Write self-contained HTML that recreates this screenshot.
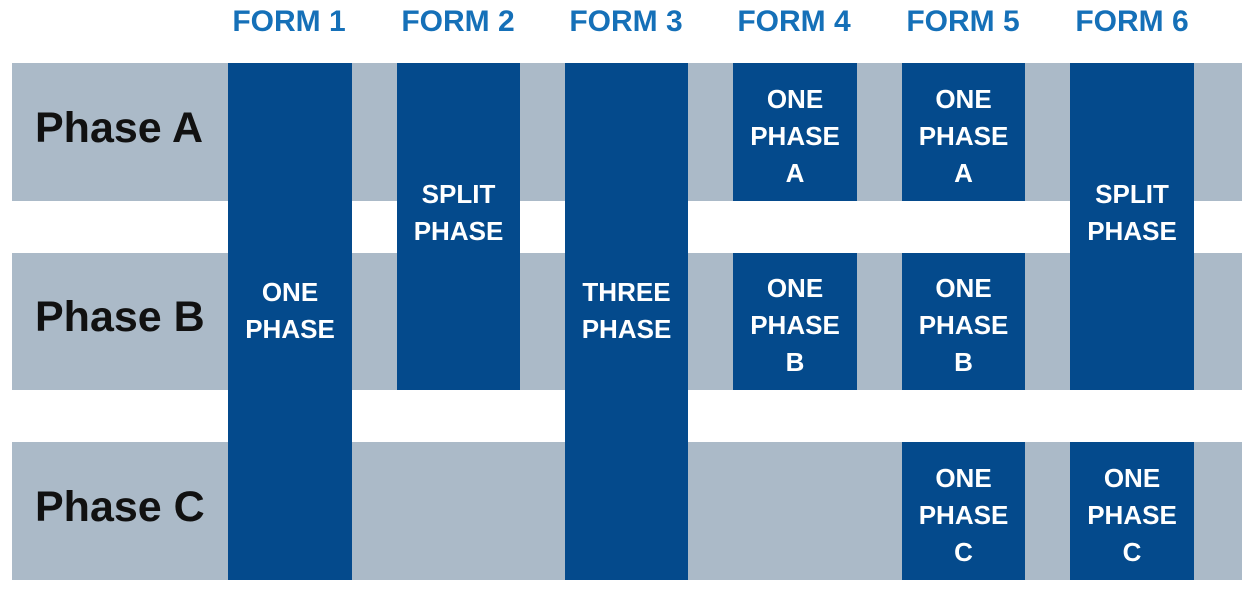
<!DOCTYPE html><html><head><style>
body{margin:0;width:1255px;height:594px;background:#fff;position:relative;overflow:hidden;font-family:"Liberation Sans",Arial,sans-serif;font-weight:bold}
.g{position:absolute;left:12px;width:1230px;background:#abbac8}
.b{position:absolute;background:#044a8c;color:#fff;font-size:26px;line-height:37px;display:flex;align-items:center;justify-content:center;text-align:center;box-sizing:border-box;padding-top:8px}
.t{padding-top:0;padding-bottom:22px}
.s{padding-top:0;padding-bottom:27px}
.h{position:absolute;top:5px;color:#1570b8;font-size:30px;width:170px;text-align:center}
.p{position:absolute;left:35px;font-size:43px;color:#111}
</style></head><body>
<div class="g" style="top:63px;height:138px"></div>
<div class="g" style="top:253px;height:137px"></div>
<div class="g" style="top:442px;height:138px"></div>
<div class="p" style="top:104px">Phase A</div>
<div class="p" style="top:293px">Phase B</div>
<div class="p" style="top:483px">Phase C</div>
<div class="h" style="left:204px">FORM 1</div>
<div class="h" style="left:373px">FORM 2</div>
<div class="h" style="left:541px">FORM 3</div>
<div class="h" style="left:709px">FORM 4</div>
<div class="h" style="left:878px">FORM 5</div>
<div class="h" style="left:1047px">FORM 6</div>
<div class="b t" style="left:228px;top:63px;width:124px;height:517px">ONE<br>PHASE</div>
<div class="b s" style="left:397px;top:63px;width:123px;height:327px">SPLIT<br>PHASE</div>
<div class="b t" style="left:565px;top:63px;width:123px;height:517px">THREE<br>PHASE</div>
<div class="b" style="left:733px;top:63px;width:124px;height:138px">ONE<br>PHASE<br>A</div>
<div class="b" style="left:733px;top:253px;width:124px;height:137px">ONE<br>PHASE<br>B</div>
<div class="b" style="left:902px;top:63px;width:123px;height:138px">ONE<br>PHASE<br>A</div>
<div class="b" style="left:902px;top:253px;width:123px;height:137px">ONE<br>PHASE<br>B</div>
<div class="b" style="left:902px;top:442px;width:123px;height:138px">ONE<br>PHASE<br>C</div>
<div class="b s" style="left:1070px;top:63px;width:124px;height:327px">SPLIT<br>PHASE</div>
<div class="b" style="left:1070px;top:442px;width:124px;height:138px">ONE<br>PHASE<br>C</div>
</body></html>
